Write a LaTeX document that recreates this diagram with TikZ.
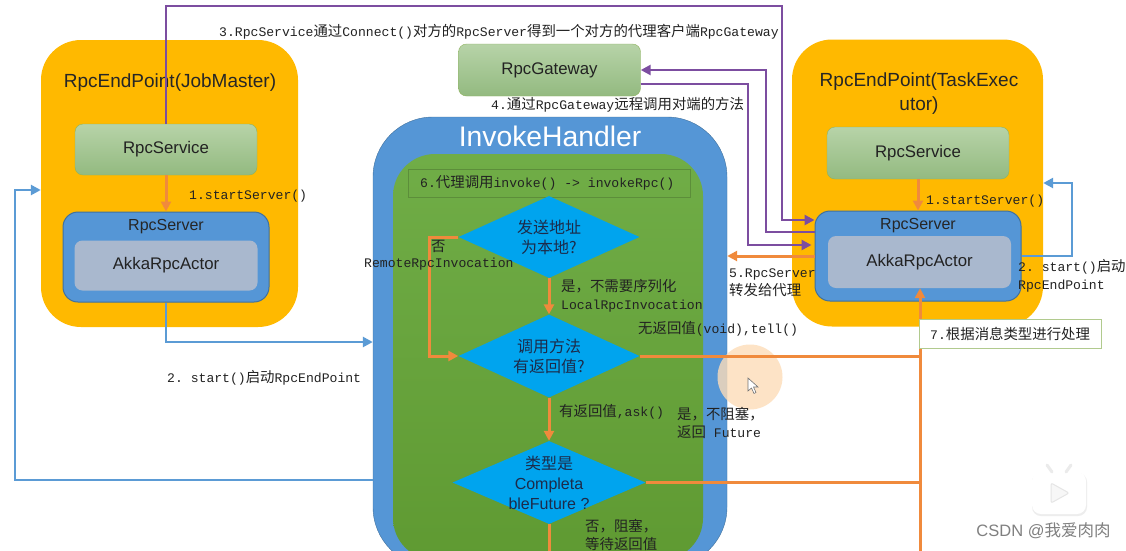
\documentclass[tikz,border=0pt]{standalone}
\usepackage{fontspec}
\setmainfont{Liberation Sans}
\setmonofont{Liberation Mono}
\newfontfamily\cjk[Scale=1.1]{Noto Sans CJK SC}
\newfontfamily\cjkplain{Noto Sans CJK SC}
\newcommand{\zh}[1]{{\cjk #1}}
\newcommand{\zhd}[1]{{\cjkplain #1}}
\usetikzlibrary{arrows.meta, shapes.geometric}
\definecolor{amber}{HTML}{FFB900}
\definecolor{boxblue}{HTML}{5596D6}
\definecolor{boxedge}{HTML}{41719C}
\definecolor{actorgray}{HTML}{A9B8CE}
\definecolor{leaftop}{HTML}{B7D3A8}
\definecolor{leafbot}{HTML}{93BA80}
\definecolor{leafedge}{HTML}{8FB35E}
\definecolor{grasstop}{HTML}{70AD47}
\definecolor{grassbot}{HTML}{5F9A32}
\definecolor{decblue}{HTML}{00A4EE}
\definecolor{decink}{HTML}{1C2B4A}
\definecolor{linepurple}{HTML}{7C4DA0}
\definecolor{lineorange}{HTML}{F08A3C}
\definecolor{lineblue}{HTML}{5B9BD5}
\definecolor{inktext}{HTML}{222222}
\definecolor{peach}{HTML}{FDDDB8}
\begin{document}
\begin{tikzpicture}[
    x=1pt, y=-1pt,
    endpoint/.style={fill=amber, rounded corners=40pt, minimum width=#1, minimum height=287pt, inner sep=0pt},
    leafbox/.style={draw=leafedge, rounded corners=8pt, top color=leaftop, bottom color=leafbot, minimum width=182pt, minimum height=#1, inner sep=0pt, font=\fontsize{16.8}{20}\selectfont, text=inktext},
    serverbox/.style={draw=boxedge, line width=1pt, fill=boxblue, rounded corners=15pt, minimum width=206pt, minimum height=90pt, inner sep=0pt},
    actorbox/.style={fill=actorgray, rounded corners=8pt, minimum width=183pt, minimum height=50pt, inner sep=0pt, font=\fontsize{16.8}{20}\selectfont, text=inktext},
    decision/.style={diamond, fill=decblue, inner sep=0pt, minimum width=#1, label={[align=center, font=\fontsize{16}{20}\selectfont, text=decink]center:\declabel}},
    title/.style={font=\fontsize{19}{24}\selectfont, align=center, text=black!85},
    lbl/.style={anchor=west, align=left, inner sep=0pt, text=inktext, font=\fontsize{13.1}{18}\selectfont\ttfamily},
    purplearrow/.style={-{Triangle[length=10pt,width=10pt]}, line width=2.8pt, color=linepurple},
    orangearrow/.style={-{Triangle[length=10pt,width=10pt]}, line width=3pt, color=lineorange},
    orangeplain/.style={line width=3pt, color=lineorange},
    bluearrow/.style={-{Triangle[length=10pt,width=10pt]}, line width=2.6pt, color=lineblue},
]
\clip (0,0) rectangle (1126,550);
\fill[white] (0,0) rectangle (1126,550);

\node[endpoint=257pt] (endL) at (169.5,183.5) {};
\node[endpoint=251pt] (endR) at (917.5,183) {};
\node[title] (titleL) at (170,83) {RpcEndPoint(JobMaster)};
\node[title] (titleR) at (919,94) {RpcEndPoint(TaskExec\\utor)};

\node[leafbox=51pt] (svcL) at (166,149.5) {RpcService};
\node[leafbox=52pt] (svcR) at (918,153) {RpcService};
\node[leafbox=52pt] (gate) at (549.5,70) {RpcGateway};

\node[serverbox] (srvL) at (166,257) {};
\node[serverbox] (srvR) at (918,256) {};
\node[actorbox] (akkaL) at (166,265.5) {AkkaRpcActor};
\node[actorbox, minimum height=52pt] (akkaR) at (919.5,262) {AkkaRpcActor};
\node[font=\fontsize{16}{20}\selectfont, text=black!85] (nameL) at (166,227) {RpcServer};
\node[font=\fontsize{16}{20}\selectfont, text=black!85] (nameR) at (918,226) {RpcServer};

\node[draw=boxedge, fill=boxblue, rounded corners=60pt, minimum width=354pt, minimum height=450pt, inner sep=0pt] (hdl) at (550,342) {};
\node[top color=grasstop, bottom color=grassbot, rounded corners=42pt, minimum width=310pt, minimum height=406pt, inner sep=0pt] (inner) at (548,357) {};
\node[font=\fontsize{28.3}{32}\selectfont, text=white] (hdlname) at (550,136) {InvokeHandler};
\node[draw=black!18!grasstop, line width=0.4pt, minimum width=282pt, minimum height=28pt, inner sep=0pt] (proxy) at (549,183) {};

\def\declabel{\zhd{发送地址}\\\zhd{为本地?}}
\node[decision=181pt, minimum height=82pt, aspect=2.2] (dec1) at (549,237) {};
\def\declabel{\zhd{调用方法}\\\zhd{有返回值?}}
\node[decision=181pt, minimum height=83pt, aspect=2.2] (dec2) at (549,356) {};
\def\declabel{\zhd{类型是}\\Completa\\bleFuture ?}
\node[decision=193pt, minimum height=83pt, aspect=2.3] (dec3) at (549,482.5) {};

\fill[fill=peach, opacity=0.8] (750,377) circle (32.5);
\draw[black!55, fill=white, line width=0.6pt] (748,378) -- (748,391) -- (751.5,388) -- (754,393.5) -- (756,392.5) -- (753.5,387) -- (758,387) -- cycle;

\coordinate (botR) at (920,560);
\coordinate (botD) at (549,560);

\draw[purplearrow] (svcL.north) -- (166,6) -- (782,6) -- (782,220) -- ([yshift=36pt]srvR.west);
\draw[purplearrow] ([yshift=24pt]srvR.west) -- (766,232) -- (766,70) -- (gate.east);
\draw[purplearrow] ([yshift=-14pt]gate.east) -- (748,84) -- (748,245) -- ([xshift=-3pt,yshift=11pt]srvR.west);
\draw[orangearrow] (srvR.west) -- (hdl.east |- srvR.west);

\draw[orangearrow] (svcL.south) -- (srvL.north);
\draw[orangearrow] (svcR.south) -- (srvR.north);
\draw[bluearrow] (srvL.south) |- (hdl.west);
\draw[bluearrow] ([yshift=-138pt]hdl.west) -- (15,480) -- (15,190) -- ([yshift=-6.5pt]endL.west);
\draw[bluearrow] (srvR.east) -- (1072,256) -- (1072,183) -- (endR.east |- 0,183);

\draw[orangearrow] (dec1.west) -- ++(-29,0) |- (dec2.west);
\draw[orangearrow] (dec1.south) -- (dec2.north);
\draw[orangearrow] (dec2.south) -- (dec3.north);
\draw[orangeplain] (dec3.south) -- (botD);
\draw[orangeplain] (dec2.east) -- (dec2.east -| botR);
\draw[orangeplain] (dec3.east) -- (dec3.east -| botR);
\draw[orangearrow] (botR) -- (botR |- akkaR.south);

\node[lbl] (step3) at (219,32) {3.RpcService\zh{通过}Connect()\zh{对方的}RpcServer\zh{得到一个对方的代理客户端}RpcGateway};
\node[lbl] (step4) at (491,105) {4.\zh{通过}RpcGateway\zh{远程调用对端的方法}};
\node[lbl] (step1L) at (189,196) {1.startServer()};
\node[lbl] (step1R) at (926,201) {1.startServer()};
\node[lbl] (step2L) at (167,378) {2. start()\zh{启动}RpcEndPoint};
\node[lbl] (step2R) at (1018,275.5) {2. start()\zh{启动}\\RpcEndPoint};
\node[lbl] (step5) at (729,283) {5.RpcServer\\\zh{转发给代理}};
\node[lbl] (step6) at (420,182.5) {6.\zh{代理调用}invoke() -> invokeRpc()};
\node[draw=leafedge!70, fill=white, line width=1pt, minimum width=182pt, minimum height=29pt, inner sep=0pt, anchor=west] (box7) at (919,333.5) {};
\node[lbl] (step7) at (930,333.5) {7.\zh{根据消息类型进行处理}};

\node[lbl] (no1) at (431,246) {\zh{否}};
\node[lbl] (remote) at (364,264) {RemoteRpcInvocation};
\node[lbl] (local) at (561,295.5) {\zh{是，不需要序列化}\\LocalRpcInvocation};
\node[lbl] (tell) at (638,329) {\zh{无返回值}(void),tell()};
\node[lbl] (ask) at (559,412) {\zh{有返回值},ask()};
\node[lbl] (future) at (677,423) {\zh{是，不阻塞，}\\\zh{返回} Future};
\node[lbl] (block) at (585,535) {\zh{否，阻塞，}\\\zh{等待返回值}};

\fill[black!7, rounded corners=9pt] (1032,473) rectangle (1087,516);
\fill[white, rounded corners=9pt] (1032,472) rectangle (1086,514);
\draw[black!8, line width=3pt, line cap=round] (1047,465) -- (1052,472) (1071,465) -- (1066,472);
\draw[black!10, fill=black!3, line width=1pt, rounded corners=2pt] (1051,483) -- (1069,493) -- (1051,503) -- cycle;
\node[text=black!50, inner sep=0pt, font=\fontsize{16.5}{18}\selectfont] (mark) at (1043.5,531) {CSDN @\zhd{我爱肉肉}};
\end{tikzpicture}
\end{document}
